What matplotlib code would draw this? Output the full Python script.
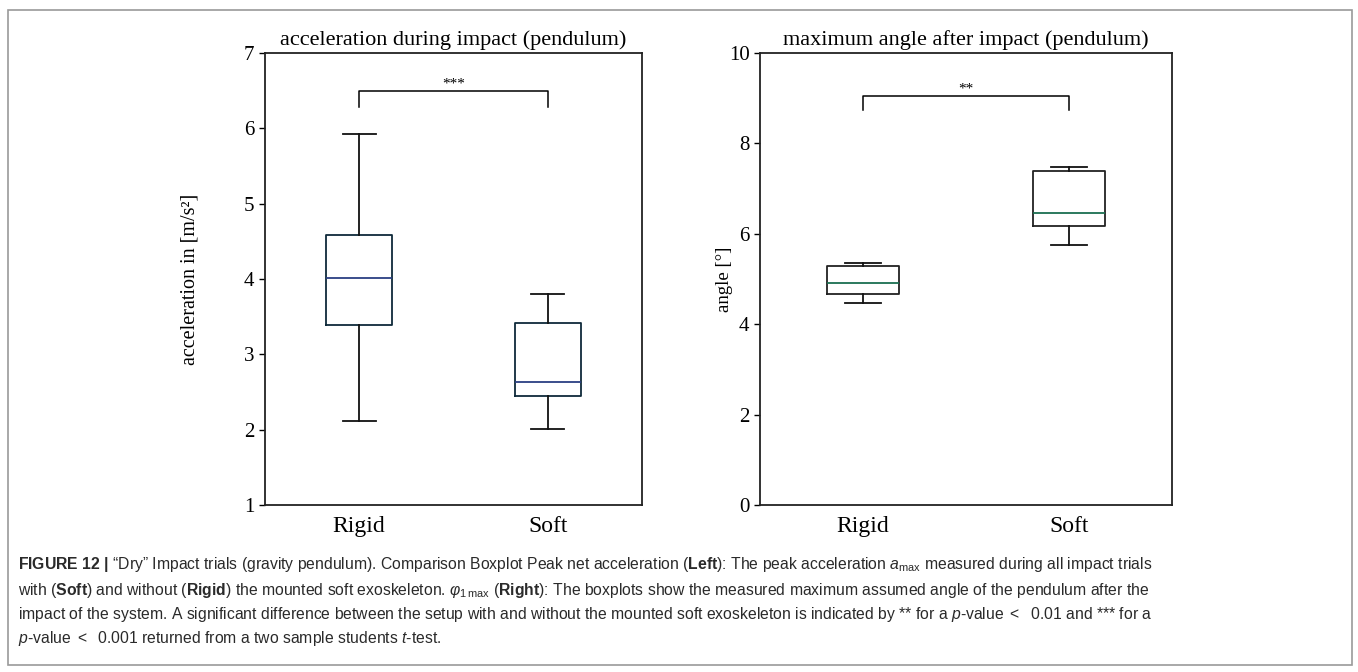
import numpy as np
import matplotlib
matplotlib.use("Agg")
from matplotlib import pyplot as plt
from matplotlib.patches import Rectangle

matplotlib.rcParams['mathtext.fontset'] = 'custom'
matplotlib.rcParams['mathtext.rm'] = 'Liberation Sans'
matplotlib.rcParams['mathtext.it'] = 'Liberation Sans:italic'
matplotlib.rcParams['mathtext.bf'] = 'Liberation Sans:bold'

# box statistics
groups = ["Rigid", "Soft"]
acc_low = [2.12, 2.01]
acc_q1 = [3.39, 2.45]
acc_med = [4.01, 2.63]
acc_q3 = [4.59, 3.42]
acc_high = [5.93, 3.80]

ang_low = [4.47, 5.75]
ang_q1 = [4.66, 6.17]
ang_med = [4.92, 6.45]
ang_q3 = [5.29, 7.38]
ang_high = [5.35, 7.48]

serif = "Liberation Serif"

def stats(lo, q1, med, q3, hi):
    return [dict(label=groups[i], whislo=lo[i], q1=q1[i], med=med[i],
                 q3=q3[i], whishi=hi[i], fliers=[]) for i in range(len(groups))]

def boxplot(ax, st, edge, medcol):
    ax.bxp(st, positions=[1, 2], widths=0.35, showfliers=False,
           boxprops=dict(color=edge, lw=1.3),
           medianprops=dict(color=medcol, lw=1.3),
           whiskerprops=dict(color="#111111", lw=1.3),
           capprops=dict(color="#111111", lw=1.3))
    ax.set_xlim(0.5, 2.5)
    for s in ax.spines.values():
        s.set_linewidth(1.3)
        s.set_color("#222222")
    ax.tick_params(axis="y", direction="out", length=4, width=1, labelsize=15,
                   right=False)
    ax.tick_params(axis="x", length=0, pad=8, labelsize=17)
    for lab in ax.get_xticklabels() + ax.get_yticklabels():
        lab.set_fontfamily(serif)

def bracket(ax, y, drop, txt):
    ax.plot([1, 1, 2, 2], [y - drop, y, y, y - drop], color="black", lw=1.1)
    ax.text(1.5, y, txt, ha="center", va="bottom", fontsize=11, family=serif)

fig = plt.figure(figsize=(13.58, 6.72), dpi=100)

ax1 = fig.add_axes([0.1951, 0.2485, 0.2776, 0.6726])
boxplot(ax1, stats(acc_low, acc_q1, acc_med, acc_q3, acc_high), "#0f2a3a", "#2b3f82")
ax1.set_ylim(1, 7)
ax1.set_yticks([1, 2, 3, 4, 5, 6, 7])
ax1.set_title("acceleration during impact (pendulum)", fontsize=16, family=serif, pad=6)
ax1.set_ylabel("acceleration in [m/s²]", fontsize=14.5, family=serif, labelpad=32)
bracket(ax1, 6.5, 0.22, "***")

ax2 = fig.add_axes([0.5596, 0.2485, 0.3034, 0.6726])
boxplot(ax2, stats(ang_low, ang_q1, ang_med, ang_q3, ang_high), "#222222", "#1a6e50")
ax2.set_ylim(0, 10)
ax2.set_yticks([0, 2, 4, 6, 8, 10])
ax2.set_title("maximum angle after impact (pendulum)", fontsize=16, family=serif, pad=6)
ax2.set_ylabel("angle [°]", fontsize=13.5, family=serif, labelpad=-3)
bracket(ax2, 9.05, 0.3, "**")

# caption
lines = [
    r"$\mathbf{FIGURE\ 12\ |}$ “Dry” Impact trials (gravity pendulum). Comparison Boxplot Peak net acceleration ($\mathbf{Left}$): The peak acceleration $a_{\mathrm{max}}$ measured during all impact trials",
    r"with ($\mathbf{Soft}$) and without ($\mathbf{Rigid}$) the mounted soft exoskeleton. $\varphi_{1\,\mathrm{max}}$ ($\mathbf{Right}$): The boxplots show the measured maximum assumed angle of the pendulum after the",
    r"impact of the system. A significant difference between the setup with and without the mounted soft exoskeleton is indicated by ** for a $p$-value $<$  0.01 and *** for a",
    r"$p$-value $<$  0.001 returned from a two sample students $t$-test.",
]
ys = [565, 590, 614, 638]
for line, y in zip(lines, ys):
    fig.text(18 / 1358, 1 - y / 672, line, fontsize=11.3, family="Liberation Sans",
             color="#2a2a2a", ha="left", va="center")

fig.patches.append(Rectangle((8 / 1358, 1 - 665 / 672), 1344 / 1358, 655 / 672,
                             transform=fig.transFigure, fill=False,
                             edgecolor="#9a9a9a", lw=1.2))

fig.savefig("out.png", dpi=100)
